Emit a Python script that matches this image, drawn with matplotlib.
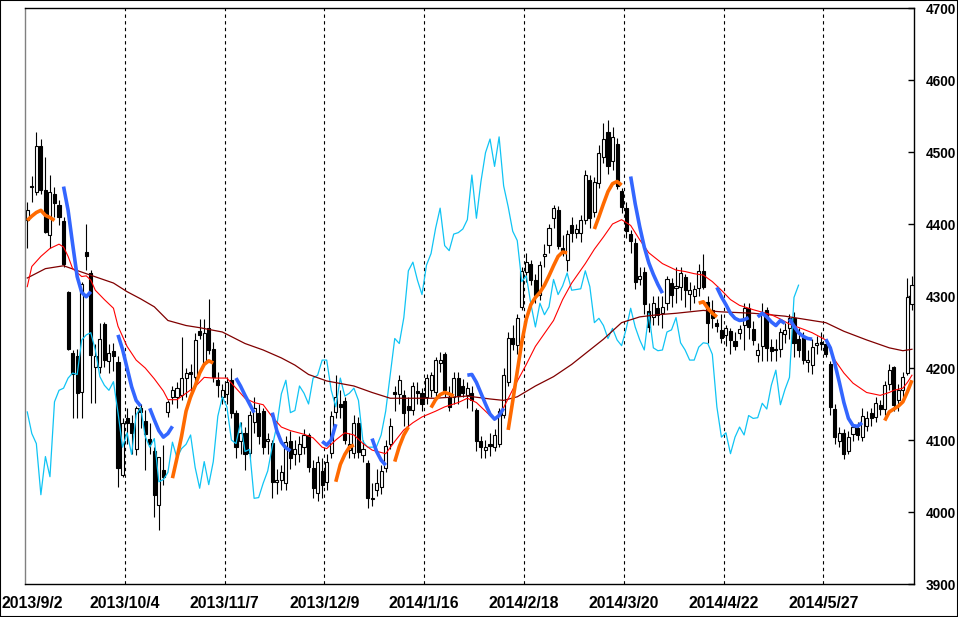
import numpy as np
import matplotlib
matplotlib.use('Agg')
import matplotlib.pyplot as plt
from matplotlib.patches import Rectangle

# --- daily candles (one value per trading day, 2013/9/2 .. 2014/6/23) ---
opens = [
    4406, 4453, 4445, 4508, 4447, 4385, 4441, 4427, 4404, 4305,
    4221, 4216, 4166, 4361, 4332, 4202, 4202, 4261, 4210, 4224,
    4208, 4051, 4130, 4123, 4088, 4144, 4127, 4102, 4085, 4010,
    4058, 4139, 4160, 4160, 4162, 4186, 4194, 4187, 4251, 4208,
    4256, 4226, 4183, 4160, 4164, 4183, 4138, 4099, 4110, 4082,
    4125, 4138, 4140, 4098, 4096, 4042, 4045, 4040, 4098, 4080,
    4081, 4090, 4107, 4061, 4026, 4057, 4042, 4082, 4139, 4150,
    4154, 4086, 4082, 4124, 4079, 4068, 4018, 4030, 4035, 4061,
    4095, 4166, 4164, 4162, 4147, 4142, 4168, 4165, 4160, 4170,
    4166, 4207, 4219, 4160, 4160, 4186, 4175, 4163, 4165, 4142,
    4098, 4086, 4095, 4090, 4095, 4135, 4181, 4241, 4232, 4285,
    4334, 4344, 4322, 4302, 4355, 4371, 4408, 4420, 4366, 4350,
    4398, 4388, 4388, 4406, 4461, 4416, 4457, 4493, 4528, 4488,
    4511, 4446, 4422, 4386, 4373, 4324, 4333, 4279, 4271, 4283,
    4276, 4290, 4318, 4311, 4313, 4327, 4303, 4300, 4311, 4335,
    4291, 4281, 4262, 4253, 4246, 4251, 4237, 4249, 4260, 4283,
    4254, 4218, 4231, 4281, 4229, 4226, 4227, 4247, 4255, 4269,
    4240, 4243, 4209, 4204, 4232, 4236, 4233, 4206, 4143, 4098,
    4110, 4085, 4109, 4116, 4104, 4120, 4137, 4132, 4148, 4143,
    4178, 4201, 4155, 4169, 4193, 4289,
]
highs = [
    4431, 4466, 4528, 4518, 4493, 4468, 4452, 4433, 4410, 4307,
    4225, 4227, 4320, 4400, 4336, 4234, 4262, 4264, 4234, 4235,
    4216, 4130, 4144, 4135, 4147, 4150, 4142, 4123, 4090, 4077,
    4093, 4156, 4175, 4180, 4243, 4200, 4206, 4249, 4268, 4268,
    4296, 4236, 4195, 4178, 4188, 4200, 4142, 4125, 4118, 4140,
    4160, 4150, 4145, 4110, 4100, 4060, 4065, 4105, 4112, 4100,
    4105, 4115, 4110, 4072, 4078, 4075, 4080, 4140, 4190, 4170,
    4160, 4110, 4135, 4132, 4100, 4072, 4040, 4060, 4065, 4100,
    4130, 4175, 4190, 4170, 4160, 4180, 4180, 4172, 4192, 4195,
    4215, 4222, 4222, 4175, 4195, 4195, 4185, 4180, 4175, 4145,
    4105, 4100, 4110, 4115, 4145, 4200, 4250, 4260, 4275, 4340,
    4360, 4350, 4330, 4348, 4372, 4400, 4427, 4425, 4385, 4392,
    4410, 4400, 4412, 4475, 4468, 4465, 4510, 4540, 4545, 4535,
    4520, 4450, 4430, 4392, 4380, 4340, 4340, 4290, 4300, 4300,
    4300, 4328, 4325, 4340, 4340, 4330, 4320, 4315, 4345, 4358,
    4300, 4295, 4268, 4275, 4260, 4255, 4250, 4260, 4290, 4290,
    4265, 4235, 4290, 4285, 4240, 4240, 4255, 4262, 4275, 4278,
    4255, 4250, 4225, 4240, 4245, 4250, 4240, 4210, 4150, 4118,
    4115, 4112, 4122, 4125, 4145, 4140, 4145, 4160, 4155, 4182,
    4205, 4203, 4178, 4195, 4325, 4328,
]
lows = [
    4367, 4431, 4440, 4442, 4387, 4366, 4410, 4399, 4340, 4225,
    4130, 4130, 4130, 4336, 4151, 4151, 4193, 4202, 4193, 4196,
    4035, 4049, 4095, 4081, 4079, 4116, 4058, 4081, 3993, 3975,
    4038, 4132, 4150, 4145, 4155, 4160, 4160, 4180, 4240, 4205,
    4220, 4180, 4160, 4150, 4150, 4130, 4075, 4080, 4058, 4075,
    4110, 4095, 4080, 4080, 4020, 4025, 4030, 4030, 4060, 4065,
    4070, 4080, 4055, 4020, 4015, 4020, 4030, 4075, 4130, 4130,
    4095, 4075, 4075, 4075, 4070, 4005, 4008, 4022, 4025, 4055,
    4088, 4140, 4150, 4120, 4120, 4135, 4150, 4140, 4150, 4160,
    4155, 4195, 4160, 4140, 4150, 4150, 4160, 4145, 4140, 4085,
    4075, 4075, 4078, 4085, 4090, 4130, 4175, 4225, 4220, 4280,
    4320, 4315, 4290, 4295, 4340, 4360, 4395, 4365, 4355, 4335,
    4375, 4380, 4375, 4400, 4395, 4410, 4450, 4485, 4470, 4475,
    4448, 4415, 4380, 4360, 4310, 4315, 4275, 4250, 4260, 4260,
    4255, 4280, 4285, 4290, 4295, 4285, 4280, 4290, 4300, 4310,
    4235, 4255, 4250, 4235, 4230, 4220, 4225, 4240, 4225, 4240,
    4232, 4208, 4210, 4210, 4210, 4210, 4215, 4235, 4240, 4215,
    4215, 4205, 4195, 4192, 4220, 4225, 4215, 4135, 4095, 4090,
    4074, 4080, 4098, 4100, 4098, 4112, 4120, 4125, 4135, 4135,
    4170, 4140, 4140, 4160, 4190, 4280,
]
closes = [
    4419, 4452, 4508, 4447, 4389, 4445, 4429, 4410, 4345, 4227,
    4192, 4165, 4317, 4355, 4218, 4217, 4240, 4211, 4221, 4216,
    4061, 4123, 4123, 4110, 4144, 4139, 4109, 4095, 4024, 4077,
    4049, 4153, 4169, 4172, 4186, 4193, 4191, 4239, 4246, 4249,
    4225, 4188, 4176, 4169, 4181, 4138, 4090, 4110, 4080, 4135,
    4145, 4105, 4090, 4102, 4042, 4045, 4055, 4097, 4075, 4088,
    4094, 4107, 4062, 4033, 4070, 4038, 4070, 4133, 4160, 4146,
    4100, 4095, 4124, 4084, 4087, 4019, 4020, 4040, 4057, 4091,
    4120, 4164, 4183, 4138, 4141, 4175, 4165, 4150, 4186, 4190,
    4211, 4211, 4169, 4146, 4186, 4161, 4165, 4172, 4155, 4098,
    4090, 4090, 4091, 4107, 4140, 4190, 4241, 4234, 4270, 4335,
    4347, 4322, 4302, 4343, 4359, 4394, 4422, 4370, 4363, 4386,
    4388, 4393, 4406, 4468, 4408, 4459, 4499, 4518, 4480, 4521,
    4453, 4424, 4390, 4377, 4320, 4328, 4289, 4257, 4290, 4274,
    4285, 4323, 4302, 4314, 4332, 4308, 4309, 4310, 4335, 4313,
    4263, 4269, 4259, 4241, 4255, 4239, 4231, 4254, 4283, 4257,
    4239, 4225, 4276, 4228, 4224, 4225, 4250, 4253, 4270, 4235,
    4225, 4211, 4211, 4229, 4235, 4234, 4219, 4146, 4104, 4110,
    4081, 4104, 4118, 4107, 4134, 4130, 4131, 4151, 4143, 4176,
    4197, 4149, 4170, 4187, 4298, 4315,
]

# x-axis labels (bar index of each labelled day)
date_labels = ['2013/9/2', '2013/10/4', '2013/11/7', '2013/12/9', '2014/1/16',
               '2014/2/18', '2014/3/20', '2014/4/22', '2014/5/27']
label_bars = [0, 22, 44, 66, 88, 110, 132, 154, 176]

ma_short_x = [0, 1, 3, 5, 7, 8, 9, 10, 12, 13, 14, 15, 17, 19, 20, 22, 24, 26, 28, 30,
              31, 33, 35, 37, 39, 41, 44, 46, 48, 50, 52, 54, 56, 58, 61, 63, 65, 66, 68, 70,
              72, 74, 76, 79, 81, 83, 85, 87, 90, 92, 95, 97, 99, 101, 103, 105, 107, 110, 112, 114,
              116, 118, 120, 123, 125, 127, 129, 131, 133, 135, 137, 140, 143, 145, 147, 149, 151, 153, 155, 157,
              160, 164, 166, 168, 171, 173, 176, 177, 178, 180, 182, 185, 188, 190, 191, 193, 194, 195]
ma_short_y = [4313, 4341, 4355, 4366, 4372, 4368, 4355, 4338, 4327, 4328, 4322, 4308, 4295, 4283, 4258, 4230, 4211, 4200, 4185, 4168,
              4156, 4156, 4165, 4174, 4187, 4186, 4186, 4172, 4158, 4152, 4149, 4132, 4118, 4113, 4108, 4103, 4090, 4088, 4100, 4110,
              4107, 4095, 4086, 4081, 4098, 4114, 4124, 4132, 4140, 4146, 4152, 4158, 4152, 4140, 4128, 4145, 4170, 4205, 4230, 4248,
              4266, 4295, 4318, 4345, 4365, 4382, 4400, 4406, 4398, 4378, 4360, 4345, 4336, 4334, 4331, 4329, 4320, 4308, 4295, 4287,
              4281, 4274, 4268, 4261, 4254, 4249, 4239, 4225, 4211, 4193, 4179, 4166, 4162, 4166, 4169, 4172, 4180, 4190]
ma_long_x = [0, 4, 8, 13, 19, 22, 25, 28, 31, 35, 38, 43, 48, 52, 56, 59, 62, 66, 72, 76,
             80, 85, 90, 97, 102, 105, 108, 112, 116, 120, 123, 127, 131, 135, 139, 143, 149, 153, 160, 167,
             173, 176, 180, 185, 190, 193, 195]
ma_long_y = [4325, 4338, 4342, 4331, 4318, 4306, 4296, 4285, 4266, 4259, 4256, 4250, 4234, 4225, 4214, 4204, 4191, 4182, 4175, 4166,
             4158, 4158, 4158, 4161, 4157, 4155, 4160, 4175, 4188, 4205, 4220, 4240, 4263, 4271, 4274, 4276, 4280, 4278, 4276, 4272,
             4266, 4263, 4251, 4239, 4228, 4224, 4226]

# thick trend pieces: (first bar, values)
orange_segments = [
    (0, [4405, 4411, 4416, 4419, 4412, 4409, 4405]),
    (32, [4047, 4075, 4105, 4140, 4160, 4175, 4193, 4205, 4210, 4207]),
    (68, [4042, 4066, 4080, 4090, 4093]),
    (81, [4070, 4091, 4107, 4118]),
    (89, [4145, 4156, 4163, 4166, 4164, 4161]),
    (106, [4114, 4154, 4195, 4236, 4268, 4288, 4298, 4305, 4315, 4328, 4342, 4355, 4361, 4360]),
    (125, [4393, 4410, 4428, 4445, 4456, 4459, 4454]),
    (148, [4290, 4292, 4283, 4276, 4271]),
    (189, [4127, 4139, 4143, 4147, 4153, 4167, 4183]),
]
blue_segments = [
    (8, [4452, 4419, 4372, 4327, 4305, 4299, 4306]),
    (20, [4246, 4226, 4200, 4174, 4155, 4147]),
    (27, [4144, 4128, 4113, 4104, 4109, 4119]),
    (46, [4186, 4175, 4162, 4150, 4138]),
    (54, [4138, 4113, 4097, 4089, 4085]),
    (65, [4098, 4093, 4100, 4122]),
    (76, [4102, 4084, 4072, 4065]),
    (97, [4190, 4191, 4180, 4165, 4150, 4136, 4129, 4134, 4144]),
    (133, [4466, 4428, 4396, 4368, 4346, 4330, 4316, 4304]),
    (152, [4312, 4299, 4288, 4276, 4269, 4266, 4267, 4270]),
    (161, [4271, 4276, 4271, 4264, 4259, 4266, 4262]),
    (168, [4268, 4258, 4249, 4244, 4241, 4240]),
    (176, [4240, 4228, 4206, 4180, 4152, 4130, 4120, 4119, 4124]),
]

LAG = 25  # lagging line = close plotted 25 bars back

NARROW = ['Liberation Sans Narrow', 'Liberation Sans', 'DejaVu Sans']
WIDE = ['Liberation Sans', 'DejaVu Sans']

fig = plt.figure(figsize=(9.58, 6.17), dpi=100)
ax = fig.add_axes([25 / 958, 1 - 584 / 617, 889 / 958, 576 / 617])

n = len(closes)
x = np.arange(n)
o = np.array(opens)
c = np.array(closes)
h = np.array(highs)
l = np.array(lows)

# candles
ax.vlines(x, l, h, color='black', lw=0.8, zorder=2)
up = c >= o
body_lo = np.minimum(o, c)
body_h = np.maximum(np.abs(c - o), 0.8)
ax.bar(x[up], body_h[up], bottom=body_lo[up], width=0.68,
       color='white', edgecolor='black', lw=0.8, zorder=2.5)
ax.bar(x[~up], body_h[~up], bottom=body_lo[~up], width=0.68,
       color='black', edgecolor='black', lw=0.8, zorder=2.5)

# lines
ax.plot(np.arange(n - LAG), c[LAG:], color='#10c4f4', lw=0.9, zorder=3)
ax.plot(ma_long_x, ma_long_y, color='#800000', lw=0.9, zorder=3)
ax.plot(ma_short_x, ma_short_y, color='#ff0000', lw=0.8, zorder=3)

for start, vals in orange_segments:
    ax.plot(np.arange(start, start + len(vals)), vals, color='#ff6a00',
            lw=2.6, solid_capstyle='butt', zorder=4)
for start, vals in blue_segments:
    ax.plot(np.arange(start, start + len(vals)), vals, color='#3366ff',
            lw=2.6, solid_capstyle='butt', zorder=4)

# date grid
for b in label_bars[1:]:
    ax.axvline(b - 0.5, color='black', lw=0.8, ls=(0, (3, 3)), zorder=1)

ax.set_xlim(-0.5, 195.45)
ax.set_ylim(3900, 4700)

# first date sits on the left edge, so place it by hand
ax.set_xticks([b - 0.5 for b in label_bars])
ax.set_xticklabels([''] + date_labels[1:], family=NARROW, fontweight='bold', fontsize=11.4)
ax.tick_params(axis='x', length=0, pad=9)
fig.text(1 / 958, 1 - 603 / 617, date_labels[0], ha='left', va='center',
         family=NARROW, fontweight='bold', fontsize=11.4)

ax.yaxis.tick_right()
ax.set_yticks(np.arange(3900, 4701, 100))
ax.set_yticklabels([str(v) for v in range(3900, 4701, 100)],
                   family=WIDE, fontweight='bold', fontsize=9.8)
ax.tick_params(axis='y', direction='in', length=4, width=1, pad=8.5)

for side in ['top', 'right', 'bottom']:
    ax.spines[side].set_color('black')
    ax.spines[side].set_linewidth(1)
ax.spines['left'].set_color('#808080')
ax.spines['left'].set_linewidth(1)

fig.add_artist(Rectangle((0, 0), 1, 1, transform=fig.transFigure,
                         fill=False, ec='black', lw=1.5))

fig.savefig('out.png', dpi=100)
